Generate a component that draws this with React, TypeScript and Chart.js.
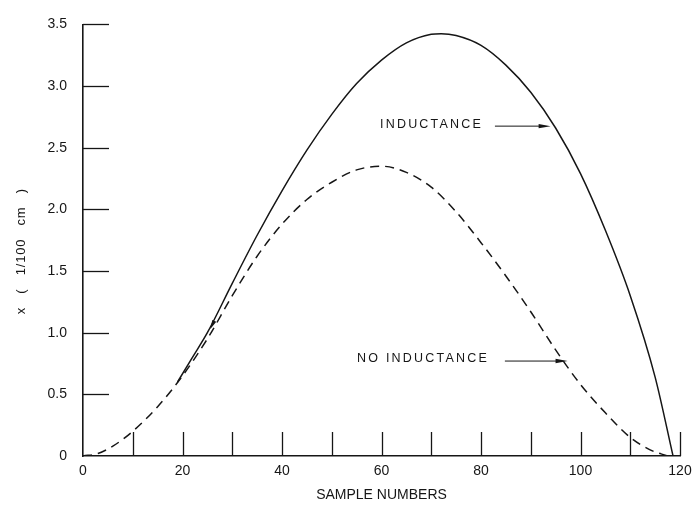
import { useEffect, useRef } from 'react';
import { Chart, registerables } from 'chart.js';

Chart.register(...registerables);

// Data
const inductanceX = [19, 22, 25, 30, 35, 40, 45, 50, 55, 60, 65, 70, 72, 75, 80, 85, 90, 95, 100, 105, 110, 115, 118.6];
const inductanceY = [0.6, 0.8, 1.0, 1.4, 1.79, 2.15, 2.48, 2.77, 3.02, 3.21, 3.35, 3.42, 3.425, 3.41, 3.33, 3.17, 2.95, 2.66, 2.29, 1.83, 1.3, 0.64, 0];

const noInductanceX = [0, 3, 6, 10, 15, 20, 25, 30, 35, 40, 45, 50, 55, 60, 65, 70, 75, 80, 85, 90, 95, 100, 105, 110, 114, 117.5];
const noInductanceY = [0, 0.02, 0.08, 0.2, 0.4, 0.65, 0.95, 1.3, 1.62, 1.88, 2.08, 2.22, 2.32, 2.35, 2.3, 2.18, 1.98, 1.73, 1.46, 1.17, 0.86, 0.58, 0.35, 0.15, 0.05, 0];

const xMarkValues = [10, 20, 30, 40, 50, 60, 70, 80, 90, 100, 110, 120];
const yMarkValues = [0.5, 1.0, 1.5, 2.0, 2.5, 3.0, 3.5];

const xTitle = 'SAMPLE NUMBERS';
const yTitle = 'x   (   1/100   cm   )';
const inductanceLabel = 'INDUCTANCE';
const noInductanceLabel = 'NO INDUCTANCE';

const FONT = '"Liberation Sans", Arial, sans-serif';
const INK = '#161616';

function toPoints(xs: number[], ys: number[]) {
  return xs.map((x, i) => ({ x, y: ys[i] }));
}

function arrow(ctx: CanvasRenderingContext2D, x1: number, y: number, x2: number) {
  ctx.save();
  ctx.strokeStyle = INK;
  ctx.fillStyle = INK;
  ctx.lineWidth = 1;
  ctx.beginPath();
  ctx.moveTo(x1, y);
  ctx.lineTo(x2 - 8, y);
  ctx.stroke();
  ctx.beginPath();
  ctx.moveTo(x2, y);
  ctx.lineTo(x2 - 12, y - 2.2);
  ctx.lineTo(x2 - 12, y + 2.2);
  ctx.closePath();
  ctx.fill();
  ctx.restore();
}

const annotationPlugin = {
  id: 'annotations',
  afterDraw(chart: any) {
    const ctx: CanvasRenderingContext2D = chart.ctx;
    const xs = chart.scales.x;
    const ys = chart.scales.y;
    const area = chart.chartArea;
    ctx.save();
    ctx.strokeStyle = INK;
    ctx.lineWidth = 1.3;
    // inward y ticks
    for (const v of yMarkValues) {
      const py = Math.round(ys.getPixelForValue(v)) + 0.5;
      ctx.beginPath();
      ctx.moveTo(area.left, py);
      ctx.lineTo(area.left + 26, py);
      ctx.stroke();
    }
    // upward x ticks
    for (const v of xMarkValues) {
      const px = Math.round(xs.getPixelForValue(v)) + 0.5;
      ctx.beginPath();
      ctx.moveTo(px, area.bottom);
      ctx.lineTo(px, area.bottom - 24);
      ctx.stroke();
    }

    ctx.fillStyle = INK;
    // y axis title
    ctx.save();
    ctx.translate(21, (area.top + area.bottom) / 2 + 11);
    ctx.rotate(-Math.PI / 2);
    ctx.font = `13px ${FONT}`;
    (ctx as any).letterSpacing = '0.8px';
    ctx.textAlign = 'center';
    ctx.textBaseline = 'middle';
    ctx.fillText(yTitle, 0, 0);
    ctx.restore();

    // curve labels
    ctx.save();
    ctx.font = `12.5px ${FONT}`;
    (ctx as any).letterSpacing = '2.2px';
    ctx.textAlign = 'left';
    ctx.textBaseline = 'middle';
    ctx.fillText(inductanceLabel, xs.getPixelForValue(59.7), ys.getPixelForValue(2.69));
    ctx.fillText(noInductanceLabel, xs.getPixelForValue(55.1), ys.getPixelForValue(0.79));
    ctx.restore();

    arrow(ctx, xs.getPixelForValue(82.8), ys.getPixelForValue(2.675), xs.getPixelForValue(94.0));
    arrow(ctx, xs.getPixelForValue(84.8), ys.getPixelForValue(0.77), xs.getPixelForValue(97.4));

    // small arrowhead on the rising branch
    const tx = xs.getPixelForValue(25.6);
    const ty = ys.getPixelForValue(1.03);
    const dx = -41, dy = 85;
    const len = Math.hypot(dx, dy);
    const ux = dx / len, uy = dy / len;
    const L = 9, W = 2.2;
    ctx.beginPath();
    ctx.moveTo(tx, ty);
    ctx.lineTo(tx - ux * L - uy * W, ty - uy * L + ux * W);
    ctx.lineTo(tx - ux * L + uy * W, ty - uy * L - ux * W);
    ctx.closePath();
    ctx.fill();

    ctx.restore();
  },
};

export default function App() {
  const canvasRef = useRef<HTMLCanvasElement | null>(null);

  useEffect(() => {
    if (!canvasRef.current) return;
    const chart = new Chart(canvasRef.current, {
      type: 'scatter',
      data: {
        datasets: [
          {
            label: inductanceLabel,
            data: toPoints(inductanceX, inductanceY),
            showLine: true,
            borderColor: INK,
            borderWidth: 1.5,
            pointRadius: 0,
            cubicInterpolationMode: 'monotone',
          },
          {
            label: noInductanceLabel,
            data: toPoints(noInductanceX, noInductanceY),
            showLine: true,
            borderColor: INK,
            borderWidth: 1.5,
            borderDash: [9, 6],
            pointRadius: 0,
            cubicInterpolationMode: 'monotone',
          },
        ],
      },
      options: {
        animation: false,
        responsive: false,
        devicePixelRatio: 1,
        layout: { padding: { top: 15, right: 20, left: 0, bottom: 0 } },
        plugins: {
          legend: { display: false },
          tooltip: { enabled: false },
        },
        scales: {
          x: {
            type: 'linear',
            min: 0,
            max: 120,
            grid: { display: false, drawTicks: false },
            border: { display: true, color: INK, width: 1.6 },
            ticks: {
              stepSize: 20,
              padding: 7,
              color: INK,
              maxRotation: 0,
              autoSkip: false,
              font: { family: FONT, size: 14 },
            },
            title: {
              display: true,
              text: xTitle,
              color: INK,
              font: { family: FONT, size: 14 },
              padding: { top: 0, bottom: 4 },
            },
            afterFit: (s: any) => {
              s.height = 52;
            },
          },
          y: {
            type: 'linear',
            min: 0,
            max: 3.5,
            grid: { display: false, drawTicks: false },
            border: { display: true, color: INK, width: 1.6 },
            ticks: {
              stepSize: 0.5,
              padding: 16,
              color: INK,
              autoSkip: false,
              font: { family: FONT, size: 14 },
              callback: (v: any) => (Number(v) === 0 ? '0' : Number(v).toFixed(1)),
            },
            afterFit: (s: any) => {
              s.width = 83;
            },
          },
        },
      },
      plugins: [annotationPlugin],
    } as any);
    return () => chart.destroy();
  }, []);

  return (
    <div style={{ position: 'fixed', left: 0, top: 0, width: 700, height: 508, background: '#fff' }}>
      <canvas ref={canvasRef} width={700} height={508} style={{ display: 'block', width: 700, height: 508 }} />
    </div>
  );
}
